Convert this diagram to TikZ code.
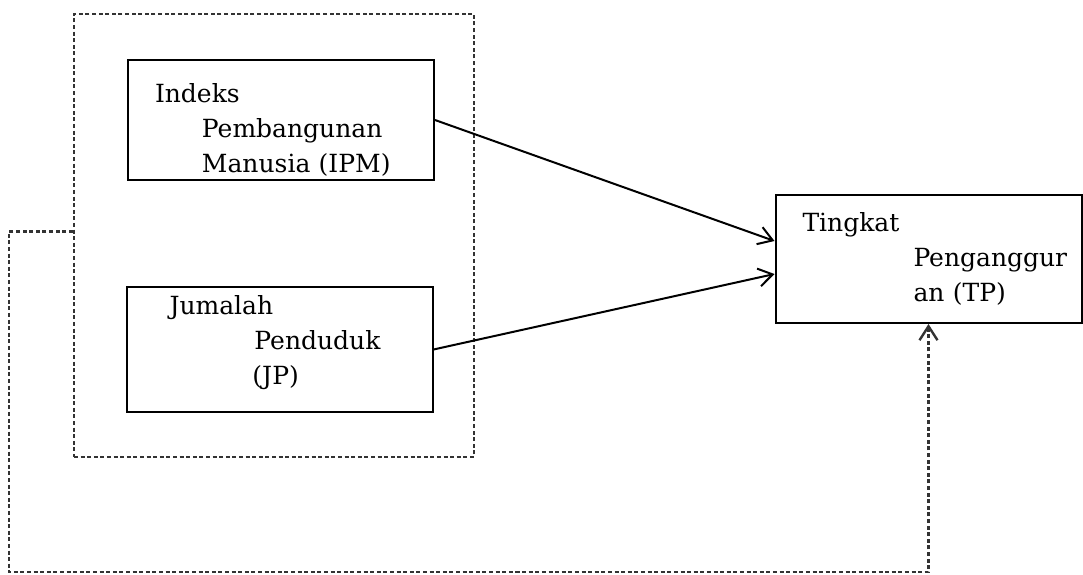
\documentclass[tikz,border=0pt]{standalone}
\usepackage{fontspec}
\setmainfont{DejaVu Serif}
\usetikzlibrary{arrows.meta,calc}

\begin{document}
\begin{tikzpicture}[x=0.5pt,y=-0.5pt,>={Straight Barb[length=7pt,width=9pt]},line width=1pt]

\tikzset{
  kotak/.style={draw,align=left,inner xsep=13.5pt,inner ysep=0pt,text width=126pt,
    font=\fontsize{12.5}{17.5}\selectfont},
  putus/.style={dash pattern=on 2pt off 1.3pt,line width=1.2pt,draw=black!80}
}

\def\ind{23.5pt}

\useasboundingbox (0,0) rectangle (1083,574);

% kelompok variabel bebas
\node[draw,putus,minimum width=200pt,minimum height=221.5pt] (grup) at (274,235.5) {};

\node[kotak,minimum height=60pt] (ipm) at (281,120)
  {\rule{0pt}{19pt}Indeks\\\hspace*{\ind}Pembangunan\\\hspace*{\ind}Manusia (IPM)};

\node[kotak,minimum height=62.5pt] (jp) at (279.5,349.5)
  {\hspace*{8pt}Jumalah\\\hspace*{50.5pt}Penduduk\\\hspace*{49.5pt}(JP)\rule[-10pt]{0pt}{0pt}};

\node[kotak,minimum height=64pt] (tp) at (928.5,259)
  {Tingkat\\\hspace*{55.5pt}\mbox{Penganggur}\\\hspace*{55.5pt}an (TP)};

\coordinate (sudut) at (9,572);

\draw[->] (ipm.east) -- ([yshift=9pt]tp.west);
\draw[->] (jp.east) -- ([yshift=-7.5pt]tp.west);

\draw[putus,->] ([yshift=2pt]grup.west) -| (sudut) -| (tp.south);

\end{tikzpicture}
\end{document}
